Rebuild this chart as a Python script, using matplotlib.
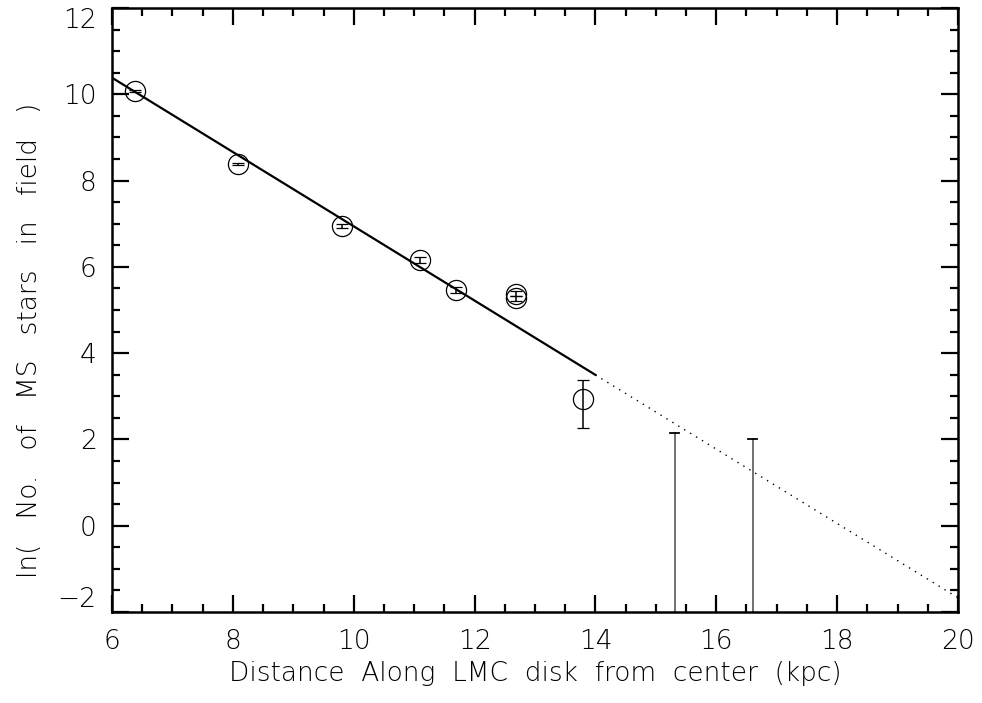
import matplotlib.pyplot as plt
import numpy as np

# measured fields: distance (kpc), ln(counts), lower / upper errors
dist = [6.38, 8.08, 9.80, 11.09, 11.70, 12.69, 12.69, 13.80]
ln_n = [10.07, 8.38, 6.95, 6.15, 5.47, 5.38, 5.27, 2.93]
err_lo = [0.02, 0.02, 0.04, 0.07, 0.07, 0.06, 0.06, 0.67]
err_hi = [0.02, 0.02, 0.04, 0.07, 0.07, 0.06, 0.06, 0.45]

# fields with no detection, only an upper error bar
lim_dist = [15.31, 16.60]
lim_top = [2.14, 2.02]

# exponential disk fit: ln N = a + b * R
fit_a = 15.55
fit_b = -0.861
fit_solid = (6.0, 14.0)
fit_dotted = (14.0, 20.0)

xticks = [6, 8, 10, 12, 14, 16, 18, 20]
yticks = [-2, 0, 2, 4, 6, 8, 10, 12]
ytick_labels = ['\u22122', '0', '2', '4', '6', '8', '10', '12']

plt.rcParams['font.family'] = ['DejaVu Sans']
plt.rcParams['font.weight'] = 'light'
plt.rcParams['axes.labelweight'] = 'light'
fig = plt.figure(figsize=(9.82, 7.03), dpi=100)
ax = fig.add_axes([112 / 982, 91 / 703, 846 / 982, 604 / 703])

ax.errorbar(dist, ln_n, yerr=[err_lo, err_hi], fmt='o', ms=14.5, mfc='none',
            mec='black', mew=0.9, ecolor='black', elinewidth=1.1, capsize=4,
            capthick=1.3, zorder=3)

for x, top in zip(lim_dist, lim_top):
    ax.plot([x, x], [-3, top], color='#666666', lw=1.3, clip_on=True)
    ax.plot([x - 0.07, x + 0.07], [top, top], color='black', lw=1.3)

xs = np.array(fit_solid)
ax.plot(xs, fit_a + fit_b * xs, color='black', lw=1.6)
xd = np.array(fit_dotted)
ax.plot(xd, fit_a + fit_b * xd, color='black', lw=1.0, ls=(0, (1, 4)))

ax.set_xlim(6, 20)
ax.set_ylim(-2, 12)
ax.set_xticks(xticks)
ax.set_yticks(yticks)
ax.set_xticks(np.arange(6, 20.01, 0.5), minor=True)
ax.set_yticks(np.arange(-2, 12.01, 0.5), minor=True)
ax.set_yticklabels(ytick_labels)
ax.tick_params(which='both', direction='in', top=True, right=True,
               labelsize=19, width=1.6, pad=11)
ax.tick_params(axis='x', pad=12)
ax.tick_params(which='major', length=12)
ax.tick_params(which='minor', length=6)
for s in ax.spines.values():
    s.set_linewidth(1.8)

# end labels kept inside the axis span, as in the original
ylabels = ax.get_yticklabels()
ylabels[0].set_va('bottom')
ylabels[-1].set_va('top')

ax.set_xlabel('Distance  Along  LMC  disk  from  center  (kpc)', fontsize=19,
              labelpad=5)
ax.set_ylabel('ln(   No.   of   MS   stars   in   field   )', fontsize=19)
ax.yaxis.set_label_coords(-0.083, 0.45)

fig.savefig('out.png', dpi=100)
